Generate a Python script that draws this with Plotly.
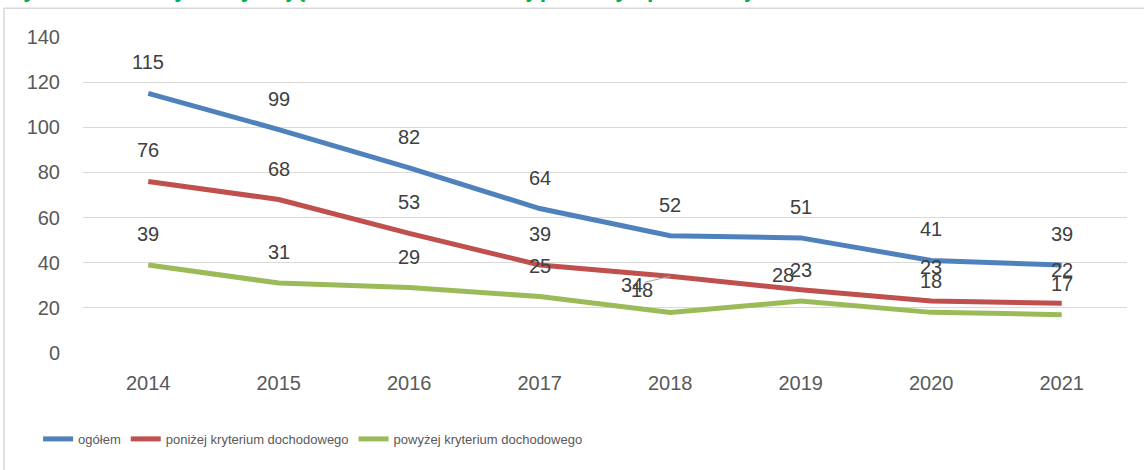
import plotly.graph_objects as go

# ---- data ----
years = ["2014", "2015", "2016", "2017", "2018", "2019", "2020", "2021"]
ogolem = [115, 99, 82, 64, 52, 51, 41, 39]
ponizej = [76, 68, 53, 39, 34, 28, 23, 22]
powyzej = [39, 31, 29, 25, 18, 23, 18, 17]
y_ticks = [0, 20, 40, 60, 80, 100, 120, 140]

series_names = ["ogółem", "poniżej kryterium dochodowego", "powyżej kryterium dochodowego"]
colors = ["#4F81BD", "#C0504D", "#9BBB59"]
title_text = "Wykres 8. Osoby korzystające ze środowiskowej pomocy społecznej"

# label offsets in pixels (dx, dy up) per series/point
default_off = (0, 31)
label_offsets = [
    [default_off] * 8,
    [default_off, default_off, default_off, default_off, None, (-18, 15), (0, 34), (0, 33)],
    [default_off, default_off, default_off, default_off, (-28, 22), default_off, default_off, default_off],
]

FONT = "Liberation Sans, Arial, sans-serif"

fig = go.Figure()
all_series = [ogolem, ponizej, powyzej]
for name, vals, col in zip(series_names, all_series, colors):
    fig.add_trace(go.Scatter(
        x=years, y=vals, mode="lines", name=name,
        line=dict(color=col, width=5),
        hoverinfo="x+y+name",
    ))

annotations = []
for vals, offs in zip(all_series, label_offsets):
    for i, (v, off) in enumerate(zip(vals, offs)):
        if off is None:
            # label moved away with a leader line
            annotations.append(dict(
                x=i, y=v, xref="x", yref="y", text=str(v),
                showarrow=True, arrowhead=0, arrowwidth=1, arrowcolor="#A6A6A6",
                ax=-38, ay=9, standoff=0,
                font=dict(family=FONT, size=20, color="#404040"),
            ))
        else:
            annotations.append(dict(
                x=i, y=v, xref="x", yref="y", text=str(v),
                showarrow=False, xshift=off[0], yshift=off[1],
                font=dict(family=FONT, size=20, color="#404040"),
            ))

# cut-off title at the very top
annotations.append(dict(
    x=-0.0795, y=1, xref="paper", yref="paper", xanchor="left", yanchor="bottom",
    yshift=33, text="<b>" + title_text + "</b>", showarrow=False,
    font=dict(family=FONT, size=23, color="#00B050"),
))

fig.update_layout(
    width=1144, height=470,
    margin=dict(l=83, r=17, t=37, b=117),
    paper_bgcolor="white", plot_bgcolor="white",
    showlegend=True,
    legend=dict(
        orientation="h", x=-0.043, xanchor="left", y=-0.272, yanchor="middle",
        font=dict(family=FONT, size=13, color="#595959"),
        itemwidth=30, tracegroupgap=0,
    ),
    annotations=annotations,
    shapes=[dict(
        type="rect", xref="paper", yref="paper",
        x0=(4 - 83) / 1044, x1=(1160 - 83) / 1044,
        y0=(353 - 480) / 316.3, y1=(353 - 8) / 316.3,
        line=dict(color="#D9D9D9", width=1.5), fillcolor="rgba(0,0,0,0)", layer="below",
    )],
    xaxis=dict(
        type="category", range=[-0.5, 7.5], showgrid=False, zeroline=False,
        showline=False, ticks="", ticklabelstandoff=16,
        tickfont=dict(family=FONT, size=20, color="#595959"),
    ),
    yaxis=dict(
        range=[0, 140], tickvals=y_ticks, showgrid=True, gridcolor="#D9D9D9", gridwidth=1.3,
        zeroline=False, showline=False, ticks="", ticklabelstandoff=22,
        tickfont=dict(family=FONT, size=20, color="#595959"),
    ),
)

fig.write_html(
    "out.html",
    config={"displayModeBar": False},
    post_script="document.body.style.margin='0';document.body.style.overflow='hidden';",
)
